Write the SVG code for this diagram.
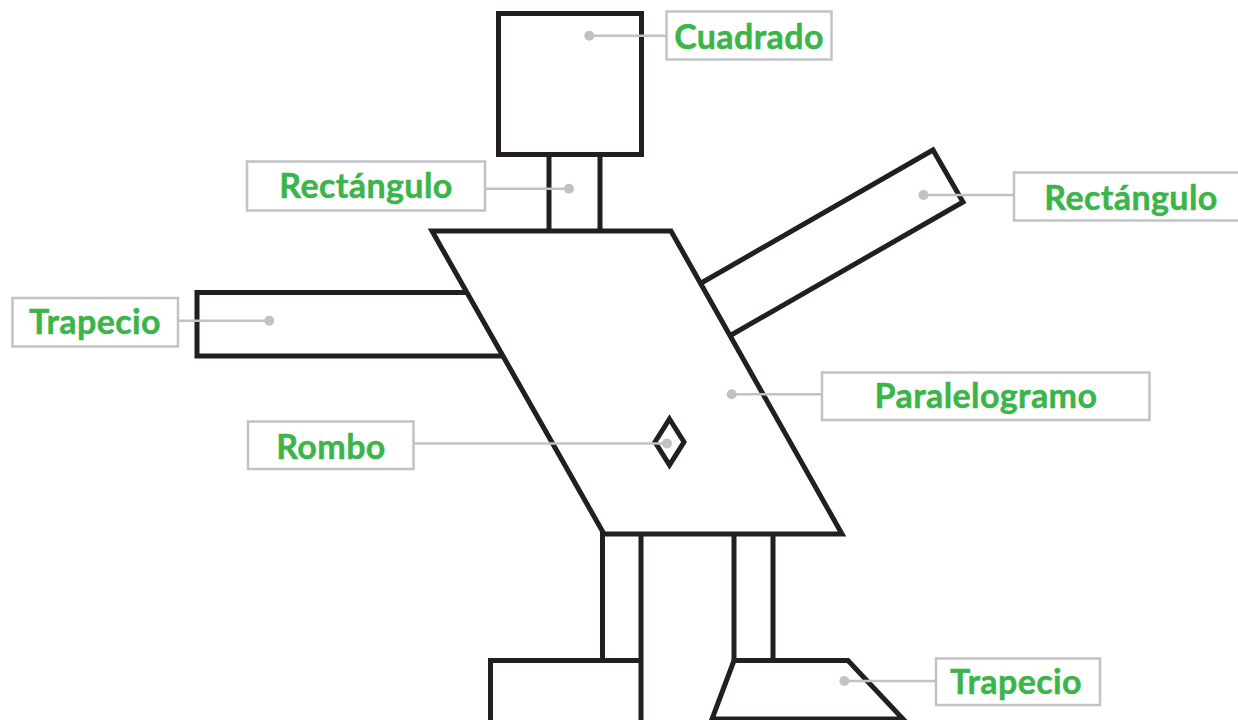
<svg xmlns="http://www.w3.org/2000/svg" width="1238" height="720" viewBox="0 0 1238 720">
<style>
.sh{fill:#fff;stroke:#231f20;stroke-width:5;stroke-linejoin:miter}
.ln{fill:none;stroke:#231f20;stroke-width:5;stroke-linejoin:miter}
.box{fill:#fff;stroke:#c1c2c6;stroke-width:2.5}
.lbl{font-family:Lato,"Noto Sans",sans-serif;font-weight:bold;font-size:34px;letter-spacing:0.4px;fill:#3bb54a;stroke:#3bb54a;stroke-width:0.5;text-anchor:middle}
.lead{fill:none;stroke:#c1c2c6;stroke-width:2.5}
.dot{fill:#c1c2c6}
</style>
<rect width="1238" height="720" fill="#fff"/>
<g id="cuadrado"><rect class="sh" x="498.5" y="13.5" width="143" height="141"/></g>
<g id="rect-cuello"><polyline class="ln" points="549,157 549,235"/><polyline class="ln" points="600,157 600,235"/></g>
<g id="trapecio-brazo"><polyline class="ln" points="470,292.5 197,292.5 197,356 505,356"/></g>
<g id="rect-brazo"><polyline class="ln" points="696,286 933,150 963,202 726,338"/></g>
<g id="pierna-izq"><polyline class="ln" points="602.5,530 602.5,660.5"/><polyline class="ln" points="641,530 641,725"/></g>
<g id="pierna-der"><polyline class="ln" points="734,530 734,660.5"/><polyline class="ln" points="773,530 773,660.5"/></g>
<g id="pie-izq"><polyline class="ln" points="490.5,725 490.5,660.5 641,660.5"/></g>
<g id="trapecio-pie"><polygon class="sh" points="734,660.5 848,660.5 903,719 712,719"/></g>
<g id="paralelogramo"><polygon class="sh" points="432,231 671,231 842,534 604,534"/></g>
<g id="rombo"><polygon class="sh" points="669.5,419 684,442 669.5,465 655,442"/></g>
<g id="connectors">
<line class="lead" x1="589.3" y1="35.7" x2="666.5" y2="35.7"/>
<line class="lead" x1="485" y1="188.7" x2="569" y2="188.7"/>
<line class="lead" x1="178" y1="320.7" x2="269.3" y2="320.7"/>
<line class="lead" x1="414" y1="443.5" x2="667" y2="443.5"/>
<line class="lead" x1="923.5" y1="195" x2="1014" y2="195"/>
<line class="lead" x1="731.7" y1="394.3" x2="822" y2="394.3"/>
<line class="lead" x1="844.3" y1="681" x2="936" y2="681"/>
<circle class="dot" cx="589.3" cy="35.7" r="5"/>
<circle class="dot" cx="569" cy="188.7" r="5"/>
<circle class="dot" cx="269.3" cy="320.7" r="5"/>
<circle class="dot" cx="667" cy="443.5" r="5"/>
<circle class="dot" cx="923.5" cy="195" r="5"/>
<circle class="dot" cx="731.7" cy="394.3" r="5"/>
<circle class="dot" cx="844.3" cy="681" r="5"/>
</g>
<g id="lbl-cuadrado"><rect class="box" x="666.5" y="11.5" width="165" height="48"/><text class="lbl" x="749" y="49">Cuadrado</text></g>
<g id="lbl-rect1"><rect class="box" x="247" y="161.5" width="238" height="49"/><text class="lbl" x="366" y="198">Rectángulo</text></g>
<g id="lbl-trap1"><rect class="box" x="12.5" y="298" width="165.5" height="48.5"/><text class="lbl" x="95" y="334">Trapecio</text></g>
<g id="lbl-rombo"><rect class="box" x="248" y="421.5" width="165.5" height="47.5"/><text class="lbl" x="331" y="459">Rombo</text></g>
<g id="lbl-rect2"><rect class="box" x="1014" y="172.5" width="240" height="48"/><text class="lbl" x="1131" y="210">Rectángulo</text></g>
<g id="lbl-paral"><rect class="box" x="822" y="372.5" width="327.5" height="47.5"/><text class="lbl" x="986" y="408">Paralelogramo</text></g>
<g id="lbl-trap2"><rect class="box" x="936" y="658.5" width="164" height="46.5"/><text class="lbl" x="1016" y="694">Trapecio</text></g>
</svg>
